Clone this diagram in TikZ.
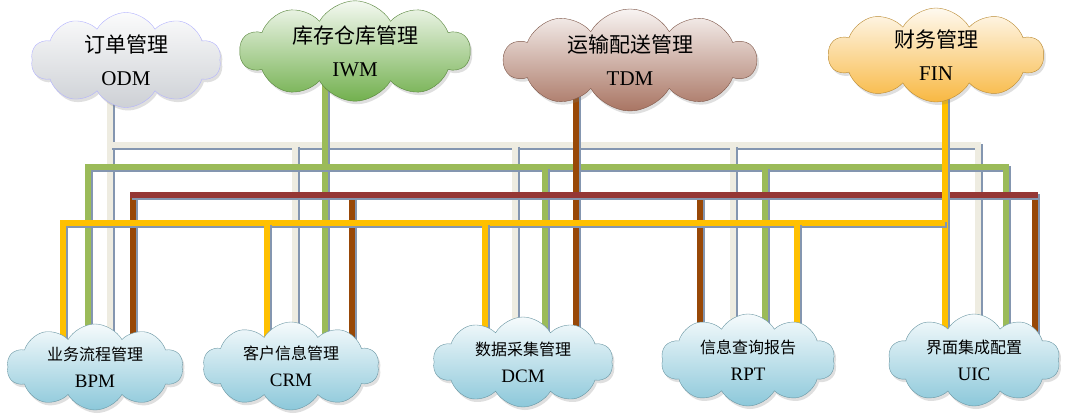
\documentclass[tikz,border=0pt]{standalone}
\usepackage{fontspec}
\setmainfont{Liberation Serif}
\newfontfamily\cjk{Noto Sans CJK SC}
\usetikzlibrary{shapes.symbols, shadows, positioning, calc}

\definecolor{buswhite}{HTML}{EEECE1}
\definecolor{busgreen}{HTML}{9BBB59}
\definecolor{busbrown}{HTML}{984807}
\definecolor{busred}{HTML}{953735}
\definecolor{busyellow}{HTML}{FFC000}
\definecolor{linkshade}{HTML}{8496B0}
\definecolor{odmgray}{HTML}{CDD0D5}
\definecolor{iwmgreen}{HTML}{72B04E}
\definecolor{tdmbrown}{HTML}{A97563}
\definecolor{finorange}{HTML}{F8B842}
\definecolor{subblue}{HTML}{8CC8DA}

\pgfdeclarelayer{background}
\pgfsetlayers{background,main}

\begin{document}
\begin{tikzpicture}[x=1pt, y=-1pt,
  cloudbox/.style={cloud, cloud puffs=10, cloud puff arc=120, cloud ignores aspect,
    inner sep=0pt, align=center, draw=#1!75!black, thin,
    top color=#1!8, bottom color=#1,
    drop shadow={opacity=0.25, shadow xshift=2pt, shadow yshift=-3pt}},
  upper/.style={font=\fontsize{21}{33}\selectfont},
  lower/.style={font=\fontsize{19}{27}\selectfont},
  link/.style={line width=6pt, draw=#1, line join=miter,
    preaction={draw=linkshade, line width=6pt,
      transform canvas={xshift=1.8pt, yshift=-1.8pt}}}]
  \useasboundingbox (0,0) rectangle (1069,417);

  % main systems on top
  \node[cloudbox=odmgray, draw=blue!30, upper, minimum width=190pt, minimum height=95pt]
    (odm) at (126,60) {{\cjk 订单管理}\\ODM};
  \node[cloudbox=iwmgreen, upper, minimum width=230pt, minimum height=98pt]
    (iwm) at (355,51) {{\cjk 库存仓库管理}\\IWM};
  \node[cloudbox=tdmbrown, upper, minimum width=252pt, minimum height=102pt]
    (tdm) at (630,60) {{\cjk 运输配送管理}\\TDM};
  \node[cloudbox=finorange, upper, minimum width=215pt, minimum height=94pt]
    (fin) at (936,55) {{\cjk 财务管理}\\FIN};

  % sub systems at the bottom
  \node[cloudbox=subblue, lower, minimum width=176pt, minimum height=86pt]
    (bpm) at (95,367) {{\cjk\fontsize{16}{27}\selectfont 业务流程管理}\\BPM};
  \node[cloudbox=subblue, lower, minimum width=176pt, minimum height=88pt]
    (crm) at (291,366) {{\cjk\fontsize{16}{27}\selectfont 客户信息管理}\\CRM};
  \node[cloudbox=subblue, lower, minimum width=180pt, minimum height=90pt]
    (dcm) at (523,362) {{\cjk\fontsize{16}{27}\selectfont 数据采集管理}\\DCM};
  \node[cloudbox=subblue, lower, minimum width=174pt, minimum height=92pt]
    (rpt) at (748,360) {{\cjk\fontsize{16}{27}\selectfont 信息查询报告}\\RPT};
  \node[cloudbox=subblue, lower, minimum width=172pt, minimum height=92pt]
    (uic) at (974,360) {{\cjk\fontsize{16}{27}\selectfont 界面集成配置}\\UIC};

  \begin{pgfonlayer}{background}
    \fill[white] (0,0) rectangle (1069,417);

    % ODM bus
    \draw[link=buswhite] (110,0 |- odm) -- (110,0 |- bpm);
    \draw[link=buswhite] (110,145) -- (978,145) -- (978,0 |- uic);
    \foreach \x/\t in {295/crm, 515/dcm, 733/rpt}
      \draw[link=buswhite] (\x,145) -- (\x,0 |- \t);

    % IWM bus
    \draw[link=busgreen] (325,0 |- iwm) -- (325,0 |- crm);
    \draw[link=busgreen] (88,0 |- bpm) -- (88,167) -- (1006,167) -- (1006,0 |- uic);
    \foreach \x/\t in {545/dcm, 765/rpt}
      \draw[link=busgreen] (\x,167) -- (\x,0 |- \t);

    % TDM bus
    \draw[link=busbrown] (576,0 |- tdm) -- (576,0 |- dcm);
    \foreach \x/\t in {133/bpm, 352/crm, 700/rpt, 1035/uic}
      \draw[link=busbrown] (\x,195) -- (\x,0 |- \t);
    \draw[link=busred] (130,195) -- (1038,195);

    % FIN bus
    \draw[link=busyellow] (945,0 |- fin) -- (945,0 |- uic);
    \draw[link=busyellow] (63,0 |- bpm) -- (63,223) -- (945,223);
    \foreach \x/\t in {267/crm, 485/dcm, 797/rpt}
      \draw[link=busyellow] (\x,223) -- (\x,0 |- \t);
  \end{pgfonlayer}
\end{tikzpicture}
\end{document}
